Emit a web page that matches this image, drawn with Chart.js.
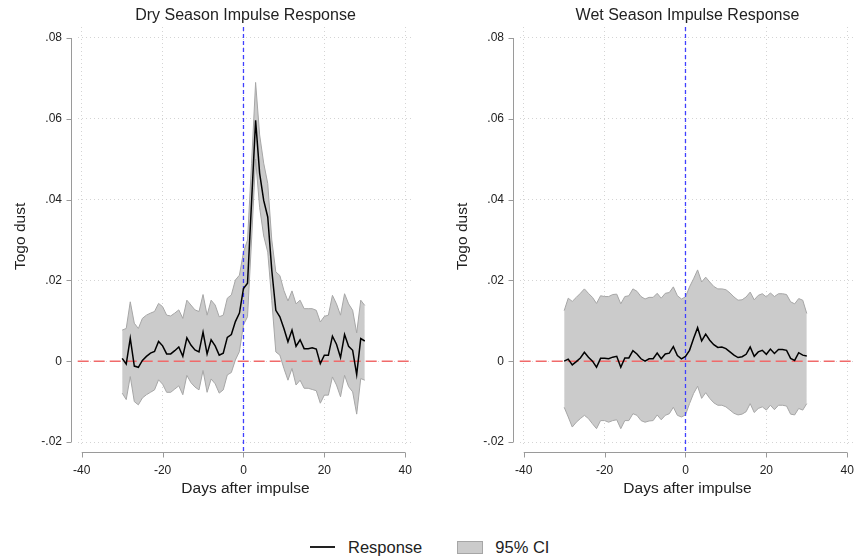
<!DOCTYPE html>
<html>
<head>
<meta charset="utf-8">
<script src="https://cdn.jsdelivr.net/npm/chart.js@4.4.1/dist/chart.umd.min.js"></script>
<style>
  body { margin: 0; background: #fff; overflow: hidden; width: 856px; height: 558px; position: relative; }
  canvas { position: absolute; top: 0; }
  #dry { left: 0; }
  #wet { left: 442px; }
  #legend { position: absolute; left: 310px; top: 536px; height: 22px; display: flex; align-items: center;
    font-family: "Liberation Sans", Arial, sans-serif; font-size: 16.5px; color: #222; }
  .sw-line { width: 25px; height: 2px; background: #222; margin-right: 13px; }
  .sw-box { width: 24px; height: 11px; background: #cbcbcb; border: 1px solid #a6a6a6; margin: 0 12px 0 35px; }
</style>
</head>
<body>
<canvas id="dry" width="442" height="498"></canvas>
<canvas id="wet" width="442" height="498"></canvas>
<div id="legend"><span class="sw-line"></span><span>Response</span><span class="sw-box"></span><span>95% CI</span></div>
<script>
const days = [-30, -29, -28, -27, -26, -25, -24, -23, -22, -21, -20, -19, -18, -17, -16, -15, -14, -13, -12, -11,
  -10, -9, -8, -7, -6, -5, -4, -3, -2, -1, 0, 1, 2, 3, 4, 5, 6, 7, 8, 9, 10, 11, 12, 13, 14, 15, 16, 17, 18, 19,
  20, 21, 22, 23, 24, 25, 26, 27, 28, 29, 30];

const xTicks = [-40, -20, 0, 20, 40];
const yTicks = [-0.02, 0, 0.02, 0.04, 0.06, 0.08];
const yTickLabels = ["-.02", "0", ".02", ".04", ".06", ".08"];

// dry season
const dryResponse = [0.0007, -0.0007, 0.0057, -0.0012, -0.0015, 0.0002, 0.0012, 0.0020, 0.0024, 0.0049,
  0.0038, 0.0018, 0.0018, 0.0026, 0.0035, 0.0012, 0.0058, 0.0040, 0.0028, 0.0023,
  0.0072, 0.0018, 0.0053, 0.0038, 0.0015, 0.0020, 0.0059, 0.0066, 0.0098, 0.0119,
  0.0180, 0.0193, 0.0394, 0.0596, 0.0465, 0.0398, 0.0357, 0.0225, 0.0126, 0.0110,
  0.0081, 0.0048, 0.0077, 0.0037, 0.0053, 0.0031, 0.0031, 0.0033, 0.0030, -0.0006,
  0.0015, 0.0015, 0.0062, 0.0042, 0.0009, 0.0066, 0.0037, 0.0027, -0.0033, 0.0056, 0.0050];
const dryUpper = [0.0077, 0.0081, 0.0147, 0.0094, 0.0081, 0.0106, 0.0114, 0.0119, 0.0123, 0.0143,
  0.0135, 0.0114, 0.0112, 0.0119, 0.0127, 0.0106, 0.0151, 0.0139, 0.0127, 0.0123,
  0.0165, 0.0114, 0.0151, 0.0139, 0.0110, 0.0114, 0.0156, 0.0164, 0.0201, 0.0213,
  0.0270, 0.0300, 0.0490, 0.0690, 0.0560, 0.0490, 0.0440, 0.0300, 0.0221, 0.0212,
  0.0175, 0.0149, 0.0174, 0.0142, 0.0151, 0.0130, 0.0130, 0.0130, 0.0126, 0.0097,
  0.0111, 0.0114, 0.0163, 0.0142, 0.0114, 0.0167, 0.0142, 0.0126, 0.0070, 0.0151, 0.0138];
const dryLower = [-0.0079, -0.0095, -0.0038, -0.0100, -0.0108, -0.0091, -0.0083, -0.0077, -0.0071, -0.0046,
  -0.0057, -0.0077, -0.0077, -0.0069, -0.0061, -0.0083, -0.0035, -0.0053, -0.0064, -0.0071,
  -0.0023, -0.0077, -0.0044, -0.0056, -0.0079, -0.0071, -0.0034, -0.0028, 0.0003, 0.0024,
  0.0090, 0.0110, 0.0300, 0.0500, 0.0380, 0.0310, 0.0270, 0.0150, 0.0023, 0.0015,
  -0.0018, -0.0047, -0.0018, -0.0059, -0.0047, -0.0067, -0.0067, -0.0070, -0.0073, -0.0104,
  -0.0084, -0.0084, -0.0039, -0.0059, -0.0088, -0.0035, -0.0063, -0.0076, -0.0131, -0.0043, -0.0047];

// wet season
const wetResponse = [0.0000, 0.0005, -0.0009, -0.0001, 0.0008, 0.0022, 0.0010, 0.0000, -0.0015, 0.0007,
  0.0007, 0.0006, 0.0010, 0.0012, -0.0015, 0.0008, 0.0008, 0.0026, 0.0018, 0.0006,
  0.0000, 0.0006, 0.0006, 0.0020, 0.0006, 0.0018, 0.0020, 0.0036, 0.0014, 0.0006,
  0.0012, 0.0027, 0.0056, 0.0083, 0.0050, 0.0067, 0.0052, 0.0041, 0.0034, 0.0035,
  0.0031, 0.0023, 0.0015, 0.0009, 0.0011, 0.0017, 0.0035, 0.0012, 0.0023, 0.0027,
  0.0017, 0.0030, 0.0019, 0.0029, 0.0029, 0.0027, 0.0007, 0.0002, 0.0021, 0.0015, 0.0013];
const wetUpper = [0.0125, 0.0156, 0.0148, 0.0158, 0.0168, 0.0179, 0.0168, 0.0158, 0.0143, 0.0162,
  0.0160, 0.0160, 0.0165, 0.0166, 0.0142, 0.0160, 0.0162, 0.0179, 0.0173, 0.0160,
  0.0154, 0.0158, 0.0158, 0.0168, 0.0156, 0.0168, 0.0170, 0.0184, 0.0162, 0.0154,
  0.0159, 0.0184, 0.0204, 0.0226, 0.0196, 0.0208, 0.0196, 0.0185, 0.0179, 0.0179,
  0.0177, 0.0169, 0.0159, 0.0151, 0.0152, 0.0159, 0.0171, 0.0152, 0.0163, 0.0167,
  0.0159, 0.0169, 0.0160, 0.0167, 0.0167, 0.0165, 0.0147, 0.0142, 0.0155, 0.0151, 0.0118];
const wetLower = [-0.0114, -0.0138, -0.0163, -0.0151, -0.0142, -0.0134, -0.0142, -0.0155, -0.0167, -0.0147,
  -0.0147, -0.0151, -0.0147, -0.0145, -0.0167, -0.0147, -0.0147, -0.0130, -0.0134, -0.0147,
  -0.0151, -0.0148, -0.0147, -0.0133, -0.0145, -0.0134, -0.0130, -0.0114, -0.0134, -0.0138,
  -0.0133, -0.0105, -0.0080, -0.0062, -0.0092, -0.0078, -0.0092, -0.0103, -0.0109, -0.0109,
  -0.0113, -0.0121, -0.0129, -0.0133, -0.0131, -0.0125, -0.0105, -0.0127, -0.0117, -0.0113,
  -0.0121, -0.0109, -0.0120, -0.0109, -0.0109, -0.0111, -0.0131, -0.0133, -0.0117, -0.0121, -0.0105];

const FONT = "'Liberation Sans', Arial, sans-serif";
const TEXT = "#222";

const toPoints = (vals) => vals.map((v, i) => ({ x: days[i], y: v }));

// reference lines go between the band and the response line
const refLines = {
  id: "refLines",
  beforeDatasetDraw(chart, args) {
    if (args.index !== 0) return;
    const { ctx, chartArea: a, scales: { x, y } } = chart;
    ctx.save();
    const y0 = y.getPixelForValue(0);
    ctx.strokeStyle = "#f06a6a";
    ctx.lineWidth = 1.6;
    ctx.setLineDash([11, 5]);
    ctx.beginPath();
    ctx.moveTo(a.left, y0);
    ctx.lineTo(a.right, y0);
    ctx.stroke();
    const x0 = x.getPixelForValue(0);
    ctx.strokeStyle = "#4040ff";
    ctx.lineWidth = 1.3;
    ctx.setLineDash([4, 3]);
    ctx.beginPath();
    ctx.moveTo(x0, a.top);
    ctx.lineTo(x0, a.bottom + 6.5);
    ctx.stroke();
    ctx.restore();
  },
};

// stata-like axes sitting a few px outside the plot region
const offsetAxes = {
  id: "offsetAxes",
  afterDraw(chart) {
    const { ctx, chartArea: a, scales: { x, y } } = chart;
    ctx.save();
    ctx.strokeStyle = "#9a9a9a";
    ctx.lineWidth = 1;
    const ax = Math.round(a.left - 6.5) + 0.5;
    ctx.beginPath();
    ctx.moveTo(ax, y.getPixelForValue(yTicks[yTicks.length - 1]));
    ctx.lineTo(ax, y.getPixelForValue(yTicks[0]));
    yTicks.forEach((t) => {
      const py = Math.round(y.getPixelForValue(t)) + 0.5;
      ctx.moveTo(ax - 5, py);
      ctx.lineTo(ax, py);
    });
    const ay = Math.round(a.bottom + 6.5) + 0.5;
    ctx.moveTo(x.getPixelForValue(xTicks[0]), ay);
    ctx.lineTo(x.getPixelForValue(xTicks[xTicks.length - 1]), ay);
    xTicks.forEach((t) => {
      const px = Math.round(x.getPixelForValue(t)) + 0.5;
      ctx.moveTo(px, ay);
      ctx.lineTo(px, ay + 5);
    });
    ctx.stroke();
    ctx.restore();
  },
};

const makePanel = (id, title, response, upper, lower) => {
  const ctx = document.getElementById(id);
  return new Chart(ctx, {
    type: "line",
    data: {
      datasets: [
        { label: "Response", data: toPoints(response), borderColor: "#000", borderWidth: 1.5,
          pointRadius: 0, fill: false, order: 0 },
        { label: "upper", data: toPoints(upper), borderColor: "#a6a6a6", borderWidth: 1,
          pointRadius: 0, fill: false, order: 1 },
        { label: "95% CI", data: toPoints(lower), borderColor: "#a6a6a6", borderWidth: 1,
          pointRadius: 0, fill: "-1", backgroundColor: "#cbcbcb", order: 2 },
      ],
    },
    options: {
      responsive: false,
      animation: false,
      events: [],
      layout: { padding: { left: 0, right: 28.7, top: 0, bottom: 0 } },
      plugins: {
        legend: { display: false },
        tooltip: { enabled: false },
        title: {
          display: true,
          text: title,
          fullSize: false,
          color: TEXT,
          font: { family: FONT, size: 16, weight: "normal" },
          padding: { top: 6, bottom: 1.8 },
        },
      },
      scales: {
        x: {
          type: "linear",
          min: -41,
          max: 42,
          afterBuildTicks: (s) => { s.ticks = xTicks.map((v) => ({ value: v })); },
          afterFit: (s) => { s.height = 52.2; },
          grid: { color: "#d4d4d4", lineWidth: 1, drawTicks: false },
          border: { display: false, dash: [1, 3] },
          ticks: { color: TEXT, padding: 18, maxRotation: 0, autoSkip: false,
            font: { family: FONT, size: 12 } },
          title: { display: true, text: "Days after impulse", color: TEXT,
            font: { family: FONT, size: 15.5 }, padding: { top: 0, bottom: 0 } },
        },
        y: {
          min: -0.02094,
          max: 0.08272,
          afterBuildTicks: (s) => { s.ticks = yTicks.map((v) => ({ value: v })); },
          afterFit: (s) => { s.width = 77.7; },
          grid: { color: "#d4d4d4", lineWidth: 1, drawTicks: false },
          border: { display: false, dash: [1, 3] },
          ticks: { color: TEXT, padding: 15.7, autoSkip: false,
            font: { family: FONT, size: 12 },
            callback: (v) => yTickLabels[yTicks.indexOf(v)] },
          title: { display: true, text: "Togo dust", color: TEXT,
            font: { family: FONT, size: 15.5 }, padding: { top: 11.2, bottom: 0 } },
        },
      },
    },
    plugins: [refLines, offsetAxes],
  });
};

makePanel("dry", "Dry Season Impulse Response", dryResponse, dryUpper, dryLower);
makePanel("wet", "Wet Season Impulse Response", wetResponse, wetUpper, wetLower);
</script>
</body>
</html>
